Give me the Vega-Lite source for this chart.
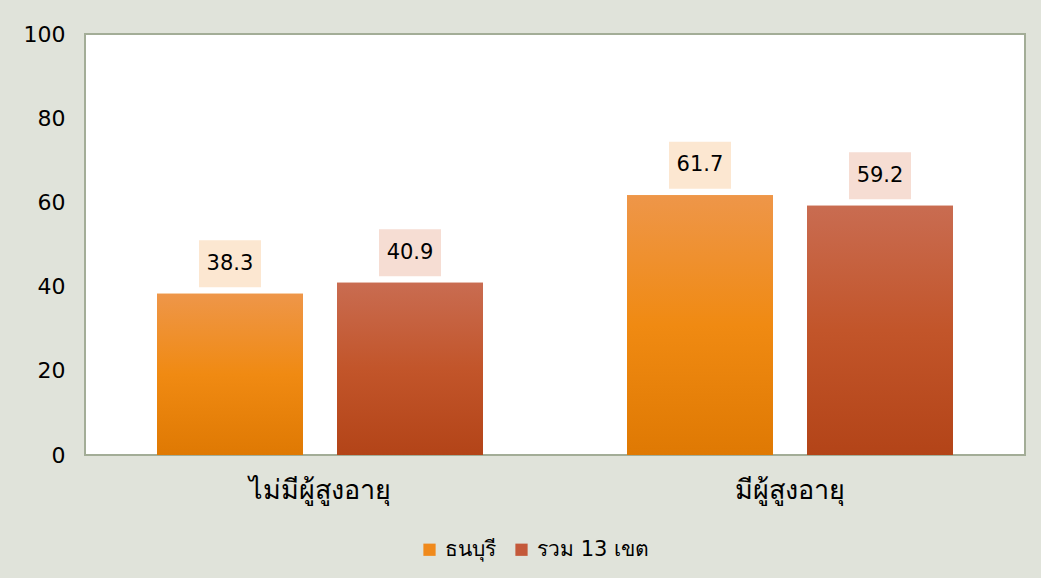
{
  "$schema": "https://vega.github.io/schema/vega-lite/v6.json",
  "autosize": {"type": "none"},
  "width": 940,
  "height": 421,
  "padding": {"left": 85, "top": 34, "right": 16, "bottom": 123},
  "background": "#e0e3da",
  "config": {
    "view": {"fill": "white", "stroke": "#a3ad97", "strokeWidth": 2},
    "font": "DejaVu Sans"
  },
  "data": {
    "values": [
      {"group": "ไม่มีผู้สูงอายุ", "series": "ธนบุรี", "value": 38.3},
      {"group": "ไม่มีผู้สูงอายุ", "series": "รวม 13 เขต", "value": 40.9},
      {"group": "มีผู้สูงอายุ", "series": "ธนบุรี", "value": 61.7},
      {"group": "มีผู้สูงอายุ", "series": "รวม 13 เขต", "value": 59.2}
    ]
  },
  "encoding": {
    "x": {
      "field": "group", "type": "nominal", "sort": null,
      "scale": {"paddingInner": 0, "paddingOuter": 0},
      "axis": {"title": null, "labelAngle": 0, "labelFontSize": 27, "labelColor": "#000000", "ticks": false, "domain": false, "labelPadding": 22}
    },
    "xOffset": {
      "field": "series", "type": "nominal", "sort": null,
      "scale": {"paddingInner": 0.189, "paddingOuter": 0.4}
    },
    "y": {
      "field": "value", "type": "quantitative",
      "scale": {"domain": [0, 100], "nice": false},
      "axis": {"title": null, "values": [0, 20, 40, 60, 80, 100], "grid": false, "ticks": false, "domain": false, "labelFontSize": 22, "labelColor": "#000000", "labelPadding": 20}
    }
  },
  "layer": [
    {
      "mark": {"type": "bar"},
      "encoding": {
        "color": {
          "field": "series", "type": "nominal", "sort": null,
          "scale": {"range": ["#f08a1c", "#c4593a"]},
          "legend": {
            "title": null, "orient": "none", "direction": "horizontal",
            "legendX": 334, "legendY": 505,
            "symbolType": "square", "symbolSize": 150, "symbolStrokeWidth": 0,
            "labelFontSize": 21, "labelColor": "#000000", "columnPadding": 15, "labelOffset": 5
          }
        }
      }
    },
    {
      "mark": {"type": "bar"},
      "encoding": {
        "fill": {
          "condition": {
            "test": "datum.series === 'ธนบุรี'",
            "value": {"gradient": "linear", "x1": 0, "y1": 0, "x2": 0, "y2": 1,
              "stops": [{"offset": 0, "color": "#ee9649"}, {"offset": 0.5, "color": "#f08a12"}, {"offset": 1, "color": "#df7903"}]}
          },
          "value": {"gradient": "linear", "x1": 0, "y1": 0, "x2": 0, "y2": 1,
            "stops": [{"offset": 0, "color": "#c96c51"}, {"offset": 0.5, "color": "#c2552a"}, {"offset": 1, "color": "#b34418"}]}
        }
      }
    },
    {
      "mark": {"type": "point", "filled": true, "opacity": 1, "yOffset": -30, "size": 3844,
        "shape": "M-1,-0.76L1,-0.76L1,0.76L-1,0.76Z"},
      "encoding": {
        "fill": {
          "field": "series", "type": "nominal", "sort": null,
          "scale": {"range": ["#fce7d1", "#f6ddd3"]},
          "legend": null
        }
      }
    },
    {
      "mark": {"type": "text", "fontSize": 21, "yOffset": -30, "color": "#000000", "baseline": "middle"},
      "encoding": {
        "text": {"field": "value", "type": "quantitative", "format": ".1f"}
      }
    }
  ]
}
